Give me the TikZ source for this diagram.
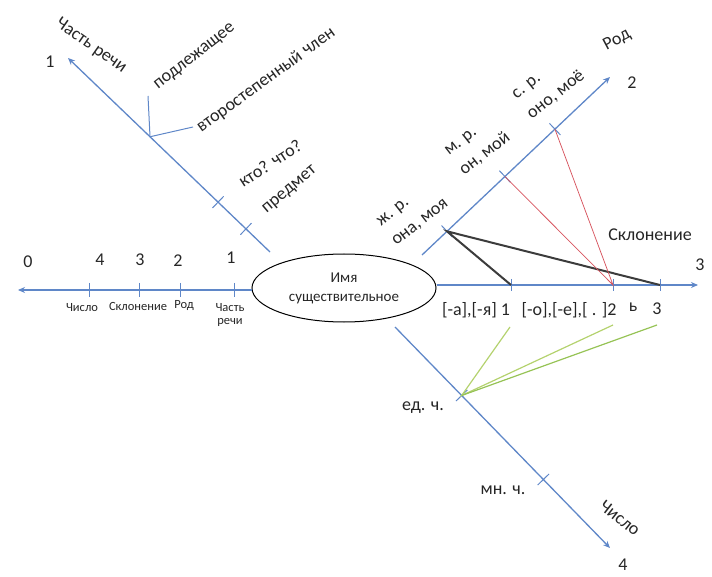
\documentclass[tikz,border=0pt]{standalone}
\usepackage{fontspec}
\setmainfont{Carlito}
\usetikzlibrary{arrows.meta,calc,shapes.geometric}
\tikzset{every picture/.style={line width=0.75pt}}
\definecolor{axisblue}{RGB}{95,135,200}
\definecolor{linkgray}{RGB}{60,60,60}
\definecolor{linkred}{RGB}{215,85,95}
\definecolor{linkgreen}{RGB}{180,210,110}
\definecolor{linkgreendk}{RGB}{150,195,85}
\tikzset{
    axis/.style={axisblue, line width=1.3pt},
    tick/.style={axisblue, line width=1pt},
    lbl/.style={font=\fontsize{18}{25}\selectfont, text=black!85, inner sep=1pt},
    tinylbl/.style={font=\fontsize{12.5}{13.5}\selectfont, text=black!85, align=center, inner sep=1pt}
}

\begin{document}
\begin{tikzpicture}[x=1pt, y=-1pt, >={Stealth[length=7pt, width=6pt]}]
    \useasboundingbox (0,0) rectangle (712,577);

    % центр
    \node[ellipse, draw, line width=1pt, minimum width=184, minimum height=68, inner sep=0pt,
          font=\fontsize{15}{19}\selectfont, text=black!85, align=center] (noun) at (344,288) {Имя\\существительное};

    % горизонтальные оси
    \coordinate (l0) at (18,290);
    \coordinate (r0) at (698,285);
    \draw[axis, ->] (noun.west |- l0) -- (l0);
    \draw[axis, ->] (noun.east |- r0) -- (r0);

    % деления слева
    \foreach \x/\n in {89/lt4, 139/lt3, 180/lt2, 234/lt1} {
        \coordinate (\n) at (\x,290);
        \draw[tick] (\n) ++(0,-7) -- ++(0,14);
    }
    \node[lbl] (n0) at (28,262) {0};
    \node[lbl] (n4) at (100,260) {4};
    \node[lbl] (n3) at (140,260) {3};
    \node[lbl] (n2) at (178,261) {2};
    \node[lbl] (n1) at (231,258) {1};
    \node[tinylbl] (s4) at (82,308) {Число};
    \node[tinylbl] (s3) at (138,306) {Склонение};
    \node[tinylbl] (s2) at (184,306) {Род};
    \node[tinylbl] (s1) at (230,315) {Часть\\речи};

    % деления справа
    \foreach \x/\n in {511/rt1, 613/rt2, 660/rt3} {
        \coordinate (\n) at (\x,285);
        \draw[tick] (\n) ++(0,-6) -- ++(0,12);
    }
    \node[lbl] (r3) at (700,265) {3};
    \node[lbl] (decl) at (650,235) {Склонение};
    \node[lbl] (e1) at (476,310) {[-а],[-я] 1};
    \node[lbl] (e2) at (569,310) {[-о],[-е],[ . ]2};
    \node[lbl] (e3a) at (633,307) {ь};
    \node[lbl] (e3) at (657,309) {3};

    % часть речи
    \coordinate (a1s) at (270,252);
    \coordinate (a1) at (68,58);
    \draw[axis, ->] (a1s) -- (a1);
    \coordinate (br) at ($(a1s)!0.594!(a1)$);
    \coordinate (br1) at (148,96);
    \coordinate (br2) at (193,127);
    \draw[tick] (br1) -- (br) -- (br2);
    \coordinate (ak1) at ($(a1s)!0.257!(a1)$);
    \coordinate (ak2) at ($(a1s)!0.119!(a1)$);
    \foreach \p in {ak1, ak2}
        \draw[tick] ($(\p)!8pt!90:(a1)$) -- ($(\p)!8pt!-90:(a1)$);
    \node[lbl] (a1n) at (50,62) {1};
    \node[lbl, rotate=-35] (a1t) at (91,46) {Часть речи};
    \node[lbl, rotate=38] (subj) at (195,57) {подлежащее};
    \node[lbl, rotate=36] (sec) at (266,80) {второстепенный член};
    \node[lbl, rotate=33] (who) at (270,163) {кто? что?};
    \node[lbl, rotate=40] (obj) at (290,190) {предмет};

    % род
    \coordinate (a2s) at (422,255);
    \coordinate (a2) at (610,77);
    \draw[axis, ->] (a2s) -- (a2);
    \coordinate (g1) at ($(a2s)!0.133!(a2)$);
    \coordinate (g2) at ($(a2s)!0.441!(a2)$);
    \coordinate (g3) at ($(a2s)!0.707!(a2)$);
    \foreach \p in {g1, g2, g3}
        \draw[tick] ($(\p)!8pt!90:(a2)$) -- ($(\p)!8pt!-90:(a2)$);
    \node[lbl] (a2n) at (632,83) {2};
    \node[lbl, rotate=28] (a2t) at (617,40) {Род};
    \node[lbl, rotate=38, align=left] (fem) at (413,213) {ж. р.\\она, моя};
    \node[lbl, rotate=38, align=left] (masc) at (478,145) {м. р.\\он, мой};
    \node[lbl, rotate=38, align=left] (neut) at (549,86) {с. р.\\оно, моё};

    % число
    \coordinate (a4s) at (395,327);
    \coordinate (a4) at (610,548);
    \draw[axis, ->] (a4s) -- (a4);
    \coordinate (q1) at ($(a4s)!0.31!(a4)$);
    \coordinate (q2) at ($(a4s)!0.69!(a4)$);
    \foreach \p in {q1, q2}
        \draw[tick] ($(\p)!8pt!90:(a4)$) -- ($(\p)!8pt!-90:(a4)$);
    \node[lbl] (a4n) at (623,565) {4};
    \node[lbl, rotate=-38] (a4t) at (620,518) {Число};
    \node[lbl] (sing) at (423,408) {ед. ч.};
    \node[lbl] (plur) at (503,490) {мн. ч.};

    % связи
    \draw[linkgray, line width=2pt] (rt1) -- (g1) -- (rt3);
    \draw[linkred] (g2) -- (rt2) -- (g3);
    \coordinate (gr1) at (510,327);
    \coordinate (gr2) at (613,325);
    \coordinate (gr3) at (657,325);
    \draw[linkgreen, line width=1.2pt] (gr1) -- (q1) -- (gr2);
    \draw[linkgreendk, line width=1.2pt] (q1) -- (gr3);
\end{tikzpicture}
\end{document}
